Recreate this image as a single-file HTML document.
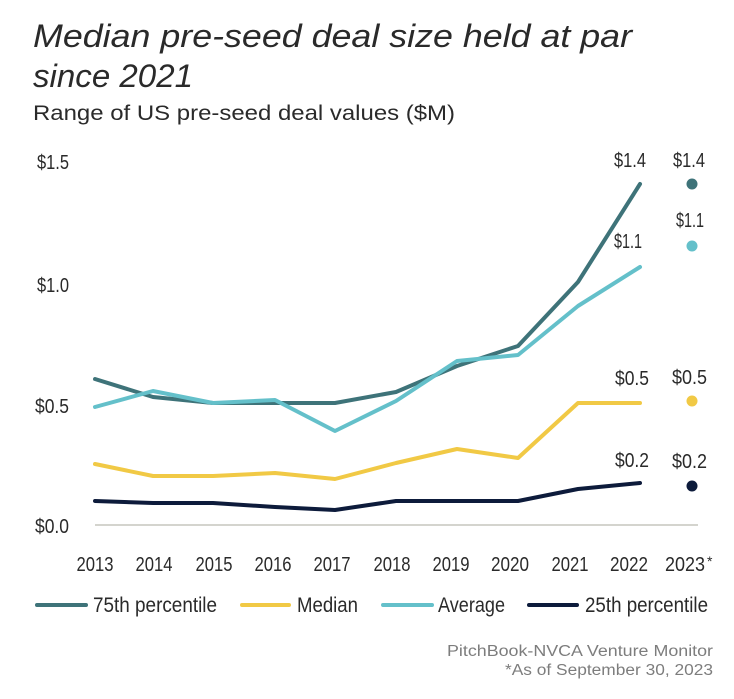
<!DOCTYPE html>
<html>
<head>
<meta charset="utf-8">
<style>
  html, body { margin: 0; padding: 0; background: #ffffff; }
  svg { display: block; }
  text { font-family: "Liberation Sans", sans-serif; fill: #2a2a2a; }
</style>
</head>
<body>
<svg width="734" height="699" viewBox="0 0 734 699" xmlns="http://www.w3.org/2000/svg">
  <!-- Title -->
  <text x="33" y="47" font-size="32" font-style="italic" textLength="599" lengthAdjust="spacingAndGlyphs" fill="#222">Median pre-seed deal size held at par</text>
  <text x="33" y="87" font-size="32" font-style="italic" textLength="160" lengthAdjust="spacingAndGlyphs" fill="#222">since 2021</text>
  <text x="33" y="120" font-size="21.5" textLength="422" lengthAdjust="spacingAndGlyphs" fill="#222">Range of US pre-seed deal values ($M)</text>

  <!-- Y axis labels -->
  <g font-size="20" text-anchor="end" fill="#333">
    <text x="69" y="169" textLength="32" lengthAdjust="spacingAndGlyphs">$1.5</text>
    <text x="69" y="292" textLength="32" lengthAdjust="spacingAndGlyphs">$1.0</text>
    <text x="69" y="413" textLength="34" lengthAdjust="spacingAndGlyphs">$0.5</text>
    <text x="69" y="533" textLength="34" lengthAdjust="spacingAndGlyphs">$0.0</text>
  </g>

  <!-- Axis line -->
  <line x1="95" y1="525" x2="698" y2="525" stroke="#c6c6be" stroke-width="1.5"/>

  <!-- Series -->
  <g fill="none" stroke-width="4" stroke-linejoin="round" stroke-linecap="round">
    <polyline stroke="#3e7379" points="95,379 153,397 213,403 275,403 335,403 396,392 457,366 518,346 578,282 640,184"/>
    <polyline stroke="#f1c945" points="95,464 153,476 213,476 275,473 335,479 396,463 457,449 518,458 578,403 640,403"/>
    <polyline stroke="#64c0ca" points="95,407 153,391 213,403 275,400 335,431 396,401 457,361 518,355 578,306 640,267"/>
    <polyline stroke="#0d1b3b" points="95,501 153,503 213,503 275,507 335,510 396,501 457,501 518,501 578,489 640,483"/>
  </g>

  <!-- 2023 dots -->
  <circle cx="692" cy="184" r="5.5" fill="#3e7379"/>
  <circle cx="692" cy="246" r="5.5" fill="#64c0ca"/>
  <circle cx="692" cy="401" r="5.5" fill="#f1c945"/>
  <circle cx="692" cy="486" r="5.5" fill="#0d1b3b"/>

  <!-- value labels -->
  <g font-size="20" fill="#2a2a2a">
    <text x="614" y="167" textLength="32" lengthAdjust="spacingAndGlyphs">$1.4</text>
    <text x="614" y="248" textLength="28" lengthAdjust="spacingAndGlyphs">$1.1</text>
    <text x="615" y="385" textLength="34" lengthAdjust="spacingAndGlyphs">$0.5</text>
    <text x="615" y="467" textLength="34" lengthAdjust="spacingAndGlyphs">$0.2</text>
    <text x="673" y="167" textLength="32" lengthAdjust="spacingAndGlyphs">$1.4</text>
    <text x="676" y="227" textLength="28" lengthAdjust="spacingAndGlyphs">$1.1</text>
    <text x="672" y="384" textLength="35" lengthAdjust="spacingAndGlyphs">$0.5</text>
    <text x="672" y="468" textLength="35" lengthAdjust="spacingAndGlyphs">$0.2</text>
  </g>

  <!-- X axis labels -->
  <g font-size="20" fill="#2a2a2a" text-anchor="middle">
    <text x="95" y="571" textLength="37" lengthAdjust="spacingAndGlyphs">2013</text>
    <text x="154" y="571" textLength="37" lengthAdjust="spacingAndGlyphs">2014</text>
    <text x="214" y="571" textLength="37" lengthAdjust="spacingAndGlyphs">2015</text>
    <text x="273" y="571" textLength="37" lengthAdjust="spacingAndGlyphs">2016</text>
    <text x="332" y="571" textLength="37" lengthAdjust="spacingAndGlyphs">2017</text>
    <text x="392" y="571" textLength="37" lengthAdjust="spacingAndGlyphs">2018</text>
    <text x="451" y="571" textLength="37" lengthAdjust="spacingAndGlyphs">2019</text>
    <text x="510" y="571" textLength="38" lengthAdjust="spacingAndGlyphs">2020</text>
    <text x="570" y="571" textLength="37" lengthAdjust="spacingAndGlyphs">2021</text>
    <text x="629" y="571" textLength="38" lengthAdjust="spacingAndGlyphs">2022</text>
  </g>
  <text x="665" y="571" font-size="20"><tspan textLength="40" lengthAdjust="spacingAndGlyphs">2023</tspan><tspan x="707" y="566" font-size="14">*</tspan></text>

  <!-- Legend -->
  <g stroke-width="4" stroke-linecap="round">
    <line x1="37" y1="605" x2="86" y2="605" stroke="#3e7379"/>
    <line x1="242" y1="605" x2="289" y2="605" stroke="#f1c945"/>
    <line x1="383" y1="605" x2="432" y2="605" stroke="#64c0ca"/>
    <line x1="529" y1="605" x2="577" y2="605" stroke="#0d1b3b"/>
  </g>
  <g font-size="21" fill="#2a2a2a">
    <text x="93" y="612" textLength="124" lengthAdjust="spacingAndGlyphs">75th percentile</text>
    <text x="297" y="612" textLength="61" lengthAdjust="spacingAndGlyphs">Median</text>
    <text x="438" y="612" textLength="67" lengthAdjust="spacingAndGlyphs">Average</text>
    <text x="585" y="612" textLength="123" lengthAdjust="spacingAndGlyphs">25th percentile</text>
  </g>

  <!-- Source -->
  <g font-size="15.5">
    <text x="447" y="656" textLength="266" lengthAdjust="spacingAndGlyphs" style="fill:#7d7d7d">PitchBook-NVCA Venture Monitor</text>
    <text x="505" y="675" textLength="208" lengthAdjust="spacingAndGlyphs" style="fill:#7d7d7d">*As of September 30, 2023</text>
  </g>
</svg>
</body>
</html>
